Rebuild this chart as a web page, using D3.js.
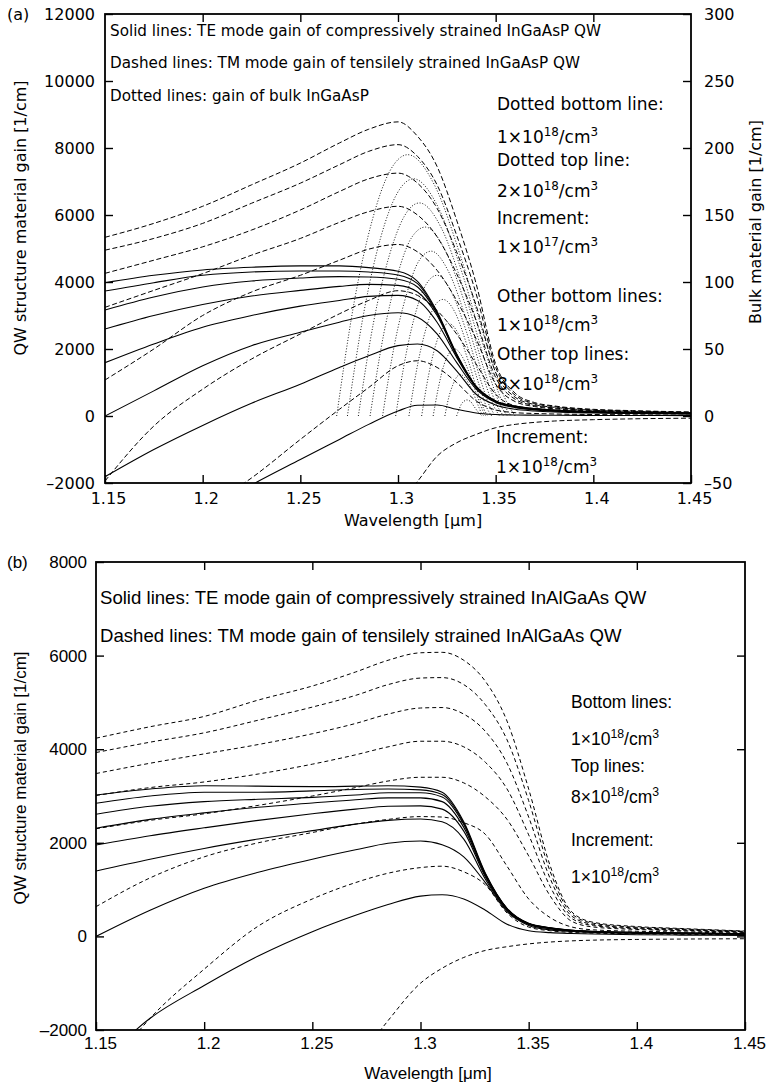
<!DOCTYPE html>
<html>
<head>
<meta charset="utf-8">
<script src="https://cdn.jsdelivr.net/npm/d3@7"></script>
<style>
  body { margin: 0; background: #fff; }
  svg { display: block; }
</style>
</head>
<body>
<div id="chart"></div>
<script>
// wavelength grid [um] shared by the QW curves
const wl = [1.15, 1.175, 1.2, 1.225, 1.25, 1.27, 1.285, 1.3, 1.31, 1.32, 1.33, 1.34, 1.35, 1.36, 1.37, 1.38, 1.4, 1.42, 1.45];

// (a) TE gain, compressively strained InGaAsP QW, 1..8 x10^18
const teA1 = [-4800, -3800, -2900, -2060, -1300, -700, -250, 150, 320, 330, 200, 90, 45, 30, 26, 22, 17, 15, 12];
const teA2 = [-1812, -1000, -280, 380, 950, 1450, 1800, 2100, 2150, 1950, 1350, 650, 330, 200, 150, 120, 90, 75, 60];
const teA3 = [0, 750, 1500, 2100, 2500, 2800, 3000, 3080, 2950, 2450, 1600, 800, 400, 250, 180, 140, 105, 85, 65];
const teA4 = [1591, 2150, 2650, 3000, 3280, 3450, 3570, 3600, 3450, 2800, 1750, 850, 420, 265, 195, 150, 110, 90, 70];
const teA5 = [2597, 3000, 3330, 3580, 3750, 3870, 3930, 3900, 3700, 3000, 1800, 860, 430, 275, 205, 160, 115, 95, 75];
const teA6 = [3164, 3550, 3850, 4030, 4120, 4160, 4150, 4080, 3850, 3050, 1820, 870, 440, 285, 210, 165, 120, 100, 78];
const teA7 = [3731, 3980, 4200, 4300, 4330, 4330, 4300, 4210, 3950, 3080, 1840, 880, 445, 290, 215, 170, 125, 103, 82];
const teA8 = [3979, 4200, 4360, 4440, 4480, 4480, 4430, 4320, 4020, 3120, 1860, 890, 450, 295, 220, 175, 130, 105, 85];

// (a) TM gain, tensilely strained InGaAsP QW
const tmA1 = [-9000, -8000, -7000, -6000, -5000, -4200, -3500, -2600, -1950, -1200, -800, -550, -350, -250, -190, -150, -110, -85, -65];
const tmA2 = [-4500, -3800, -2800, -1850, -700, 200, 850, 1500, 1650, 1450, 1000, 450, 180, 100, 75, 60, 45, 35, 25];
const tmA3 = [-1940, -300, 800, 1700, 2450, 3050, 3450, 3740, 3600, 3150, 2450, 1550, 650, 300, 220, 170, 120, 95, 70];
const tmA4 = [1075, 2000, 3000, 3700, 4200, 4650, 4980, 5120, 4900, 4350, 3450, 2300, 950, 430, 280, 215, 145, 115, 85];
const tmA5 = [3244, 3750, 4250, 4800, 5300, 5780, 6100, 6260, 6000, 5350, 4250, 2850, 1150, 500, 310, 240, 160, 130, 95];
const tmA6 = [4259, 4650, 5050, 5550, 6150, 6700, 7080, 7250, 6950, 6200, 4900, 3300, 1300, 560, 340, 260, 170, 140, 100];
const tmA7 = [4950, 5300, 5750, 6350, 6950, 7500, 7900, 8100, 7750, 6900, 5400, 3650, 1450, 620, 370, 280, 185, 150, 110];
const tmA8 = [5334, 5750, 6260, 6900, 7550, 8150, 8560, 8780, 8350, 7450, 5850, 3950, 1550, 680, 400, 300, 200, 160, 120];

// (a) bulk InGaAsP gain (right axis), [wavelength, gain], 1.0..2.0 x10^18
const bulk10 = [[1.330, 0], [1.3313, 5], [1.3325, 9], [1.3338, 11], [1.335, 12], [1.337, 11], [1.339, 7], [1.341, 3], [1.343, 0]];
const bulk11 = [[1.324, 0], [1.326, 14], [1.328, 23], [1.330, 29], [1.332, 31], [1.335, 27], [1.338, 19], [1.341, 8], [1.3428, 2], [1.344, 0]];
const bulk12 = [[1.318, 0], [1.3208, 22], [1.3235, 38], [1.3263, 47], [1.329, 50], [1.333, 44], [1.337, 30], [1.341, 13], [1.3434, 4], [1.345, 0]];
const bulk13 = [[1.3121, 0], [1.3156, 30], [1.3191, 52], [1.3225, 65], [1.326, 69], [1.331, 61], [1.336, 41], [1.341, 17], [1.344, 5], [1.346, 0]];
const bulk14 = [[1.3056, 0], [1.31, 38], [1.3143, 65], [1.3187, 82], [1.323, 87], [1.3293, 77], [1.3355, 52], [1.3418, 22], [1.3455, 6], [1.348, 0]];
const bulk15 = [[1.2988, 0], [1.3041, 46], [1.3094, 79], [1.3147, 99], [1.320, 105], [1.3275, 92], [1.335, 63], [1.3425, 26], [1.347, 7], [1.350, 0]];
const bulk16 = [[1.2921, 0], [1.2983, 54], [1.3046, 92], [1.3108, 116], [1.317, 123], [1.3258, 108], [1.3345, 74], [1.3433, 31], [1.3485, 9], [1.352, 0]];
const bulk17 = [[1.2857, 0], [1.2928, 62], [1.2999, 106], [1.3069, 133], [1.314, 141], [1.324, 124], [1.334, 85], [1.344, 35], [1.350, 10], [1.354, 0]];
const bulk18 = [[1.2797, 0], [1.2875, 70], [1.2954, 119], [1.3032, 149], [1.311, 159], [1.3223, 140], [1.3335, 95], [1.3448, 40], [1.3515, 11], [1.356, 0]];
const bulk19 = [[1.2741, 0], [1.2826, 78], [1.2911, 133], [1.2995, 166], [1.308, 177], [1.3205, 156], [1.333, 106], [1.3455, 44], [1.353, 12], [1.358, 0]];
const bulk20 = [[1.2686, 0], [1.2777, 86], [1.2868, 146], [1.2959, 183], [1.305, 195], [1.3188, 172], [1.3325, 117], [1.3463, 49], [1.3545, 14], [1.360, 0]];

// (b) TE gain, compressively strained InAlGaAs QW
const teB1 = [-2800, -1750, -1050, -420, 100, 450, 680, 860, 890, 800, 560, 260, 120, 80, 62, 50, 35, 28, 20];
const teB2 = [0, 560, 1030, 1370, 1650, 1850, 1990, 2040, 1960, 1700, 1150, 530, 235, 140, 105, 85, 65, 55, 45];
const teB3 = [1397, 1650, 1880, 2080, 2260, 2400, 2480, 2510, 2450, 2080, 1220, 550, 255, 160, 115, 95, 75, 62, 50];
const teB4 = [1953, 2150, 2320, 2480, 2620, 2720, 2780, 2790, 2720, 2250, 1270, 570, 262, 170, 120, 98, 78, 65, 52];
const teB5 = [2310, 2500, 2640, 2760, 2850, 2920, 2960, 2960, 2880, 2330, 1300, 580, 268, 175, 125, 100, 80, 67, 54];
const teB6 = [2610, 2780, 2880, 2930, 2970, 3020, 3070, 3070, 2980, 2390, 1320, 590, 272, 180, 128, 103, 82, 69, 56];
const teB7 = [2845, 3000, 3080, 3080, 3110, 3140, 3150, 3130, 3030, 2420, 1335, 595, 275, 183, 130, 105, 84, 71, 58];
const teB8 = [3022, 3150, 3220, 3210, 3200, 3210, 3220, 3190, 3080, 2450, 1350, 600, 280, 186, 133, 108, 86, 73, 60];

// (b) TM gain, tensilely strained InAlGaAs QW
const tmB1 = [-8000, -7000, -6000, -5000, -3800, -2700, -1800, -1000, -680, -450, -300, -220, -160, -120, -95, -80, -65, -57, -50];
const tmB2 = [-3200, -1750, -700, 220, 800, 1150, 1350, 1470, 1500, 1380, 1100, 500, 200, 120, 85, 70, 55, 45, 35];
const tmB3 = [635, 1250, 1700, 2000, 2220, 2400, 2500, 2560, 2550, 2430, 2180, 1500, 800, 400, 200, 140, 110, 95, 70];
const tmB4 = [2300, 2480, 2620, 2800, 3000, 3180, 3320, 3400, 3400, 3280, 2980, 2500, 1720, 860, 320, 200, 148, 122, 85];
const tmB5 = [3010, 3180, 3300, 3470, 3680, 3880, 4050, 4170, 4170, 4050, 3720, 3150, 2170, 1060, 380, 230, 165, 135, 92];
const tmB6 = [3480, 3700, 3900, 4100, 4330, 4550, 4750, 4880, 4890, 4750, 4380, 3700, 2550, 1230, 430, 255, 180, 148, 100];
const tmB7 = [3929, 4150, 4350, 4620, 4900, 5150, 5380, 5520, 5530, 5380, 4950, 4200, 2900, 1380, 480, 280, 195, 160, 108];
const tmB8 = [4235, 4480, 4700, 5050, 5350, 5650, 5900, 6060, 6070, 5900, 5450, 4600, 3150, 1500, 520, 300, 210, 170, 115];

// ticks
const xTicks = [1.15, 1.2, 1.25, 1.3, 1.35, 1.4, 1.45];
const xTickLabels = ['1.15', '1.2', '1.25', '1.3', '1.35', '1.4', '1.45'];
const yTicksA = [-2000, 0, 2000, 4000, 6000, 8000, 10000, 12000];
const yTickLabelsA = ['\u20132000', '0', '2000', '4000', '6000', '8000', '10000', '12000'];
const yTicksRightA = [-50, 0, 50, 100, 150, 200, 250, 300];
const yTickLabelsRightA = ['\u201350', '0', '50', '100', '150', '200', '250', '300'];
const yTicksB = [-2000, 0, 2000, 4000, 6000, 8000];
const yTickLabelsB = ['\u20132000', '0', '2000', '4000', '6000', '8000'];

// texts
const notesA = ['Solid lines: TE mode gain of compressively strained InGaAsP QW',
                'Dashed lines: TM mode gain of tensilely strained InGaAsP QW',
                'Dotted lines: gain of bulk InGaAsP'];
const notesB = ['Solid lines: TE mode gain of compressively strained InAlGaAs QW',
                'Dashed lines: TM mode gain of tensilely strained InAlGaAs QW'];

const teA = [teA1, teA2, teA3, teA4, teA5, teA6, teA7, teA8];
const tmA = [tmA1, tmA2, tmA3, tmA4, tmA5, tmA6, tmA7, tmA8];
const bulkA = [bulk10, bulk11, bulk12, bulk13, bulk14, bulk15, bulk16, bulk17, bulk18, bulk19, bulk20];
const teB = [teB1, teB2, teB3, teB4, teB5, teB6, teB7, teB8];
const tmB = [tmB1, tmB2, tmB3, tmB4, tmB5, tmB6, tmB7, tmB8];

const svg = d3.select('#chart').append('svg')
    .attr('width', 769)
    .attr('height', 1085);

svg.append('rect').attr('width', 769).attr('height', 1085).attr('fill', '#fff');

function makePanel(p) {
    const x = d3.scaleLinear().domain([1.15, 1.45]).range([p.left, p.right]);
    const y = d3.scaleLinear().domain(p.yDomain).range([p.bottom, p.top]);
    const g = svg.append('g').attr('font-family', p.font);

    const clipId = 'clip-' + p.name;
    svg.append('clipPath').attr('id', clipId)
        .append('rect')
        .attr('x', p.left).attr('y', p.top)
        .attr('width', p.right - p.left).attr('height', p.bottom - p.top);
    const plot = g.append('g').attr('clip-path', `url(#${clipId})`);

    const lineWl = d3.line()
        .x((d, i) => x(wl[i]))
        .y(d => y(d))
        .curve(d3.curveMonotoneX);

    p.te.forEach(s => {
        plot.append('path').datum(s)
            .attr('fill', 'none').attr('stroke', '#000').attr('stroke-width', 1.1)
            .attr('d', lineWl);
    });
    p.tm.forEach(s => {
        plot.append('path').datum(s)
            .attr('fill', 'none').attr('stroke', '#000').attr('stroke-width', 1)
            .attr('stroke-dasharray', p.dash)
            .attr('d', lineWl);
    });

    const styleAxis = (sel, size) => {
        sel.select('.domain').remove();
        sel.selectAll('.tick line').attr('stroke', '#000').attr('stroke-width', 1.4);
        sel.selectAll('text').attr('font-family', p.font).attr('font-size', size).attr('fill', '#000');
        sel.attr('font-family', null).attr('font-size', null);
    };

    g.append('g').attr('transform', `translate(0,${p.bottom})`)
        .call(d3.axisBottom(x).tickValues(xTicks).tickSize(-8).tickPadding(p.xPad)
            .tickFormat((d, i) => xTickLabels[i]))
        .call(sel => styleAxis(sel, p.tickSize))
        .call(sel => sel.selectAll('text').attr('dx', p.xLabelShift));
    g.append('g').attr('transform', `translate(0,${p.top})`)
        .call(d3.axisTop(x).tickValues(xTicks.slice(1, -1)).tickSize(-8).tickFormat(''))
        .call(sel => styleAxis(sel, p.tickSize));
    g.append('g').attr('transform', `translate(${p.left},0)`)
        .call(d3.axisLeft(y).tickValues(p.yTicks).tickSize(-8).tickPadding(p.yPad)
            .tickFormat((d, i) => p.yLabels[i]))
        .call(sel => styleAxis(sel, p.tickSize));

    g.append('rect')
        .attr('x', p.left).attr('y', p.top)
        .attr('width', p.right - p.left).attr('height', p.bottom - p.top)
        .attr('fill', 'none').attr('stroke', '#000').attr('stroke-width', 1.8);

    return {x, y, g, plot};
}

// superscript concentration label
function conc(g, xPos, yPos, mant, exp, size) {
    const t = g.append('text').attr('x', xPos).attr('y', yPos).attr('font-size', size);
    t.append('tspan').text(mant + '\u00d710');
    t.append('tspan').attr('dy', -size * 0.42).attr('font-size', size * 0.7).text(exp);
    t.append('tspan').attr('dy', size * 0.42).text('/cm');
    t.append('tspan').attr('dy', -size * 0.42).attr('font-size', size * 0.7).text('3');
}

// ---------- panel (a) ----------
const fontA = 'DejaVu Sans';
const A = makePanel({
    name: 'a', left: 105, right: 691, top: 14, bottom: 483,
    yDomain: [-2000, 12000], yTicks: yTicksA, yLabels: yTickLabelsA,
    te: teA, tm: tmA, dash: '5,2.6', font: fontA, tickSize: 16,
    xPad: 10, yPad: 10, xLabelShift: 3
});

const yBulk = d3.scaleLinear().domain([-50, 300]).range([483, 14]);
const lineBulk = d3.line()
    .x(d => A.x(d[0]))
    .y(d => yBulk(d[1]))
    .curve(d3.curveMonotoneX);
bulkA.forEach(s => {
    A.plot.append('path').datum(s)
        .attr('fill', 'none').attr('stroke', '#000').attr('stroke-width', 0.9)
        .attr('stroke-dasharray', '1,1.8')
        .attr('d', lineBulk);
});

A.g.append('g').attr('transform', 'translate(691,0)')
    .call(d3.axisRight(yBulk).tickValues(yTicksRightA).tickSize(-8).tickPadding(13)
        .tickFormat((d, i) => yTickLabelsRightA[i]))
    .call(sel => {
        sel.select('.domain').remove();
        sel.selectAll('.tick line').attr('stroke', '#000').attr('stroke-width', 1.4);
        sel.selectAll('text').attr('font-family', fontA).attr('font-size', 16).attr('fill', '#000');
    });

A.g.append('text').attr('x', 7).attr('y', 20).attr('font-size', 16).text('(a)');
A.g.append('text')
    .attr('transform', 'translate(26,218) rotate(-90)')
    .attr('text-anchor', 'middle').attr('font-size', 16)
    .text('QW structure material gain [1/cm]');
A.g.append('text')
    .attr('transform', 'translate(761,222) rotate(-90)')
    .attr('text-anchor', 'middle').attr('font-size', 16)
    .text('Bulk material gain [1/cm]');
A.g.append('text').attr('x', 413).attr('y', 526)
    .attr('text-anchor', 'middle').attr('font-size', 16)
    .text('Wavelength [\u03bcm]');

const noteY_A = [36, 68, 101];
notesA.forEach((s, i) => {
    A.g.append('text').attr('x', 110).attr('y', noteY_A[i]).attr('font-size', 15.2).text(s);
});

const fsA = 17;
A.g.append('text').attr('x', 497).attr('y', 110).attr('font-size', fsA).text('Dotted bottom line:');
conc(A.g, 497, 143, '1', '18', fsA);
A.g.append('text').attr('x', 497).attr('y', 166).attr('font-size', fsA).text('Dotted top line:');
conc(A.g, 497, 197, '2', '18', fsA);
A.g.append('text').attr('x', 497).attr('y', 224).attr('font-size', fsA).text('Increment:');
conc(A.g, 497, 253, '1', '17', fsA);
A.g.append('text').attr('x', 497).attr('y', 302).attr('font-size', fsA).text('Other bottom lines:');
conc(A.g, 497, 331, '1', '18', fsA);
A.g.append('text').attr('x', 497).attr('y', 360).attr('font-size', fsA).text('Other top lines:');
conc(A.g, 497, 390, '8', '18', fsA);
A.g.append('text').attr('x', 496).attr('y', 443).attr('font-size', fsA).text('Increment:');
conc(A.g, 496, 473, '1', '18', fsA);

// ---------- panel (b) ----------
const fontB = 'Liberation Sans';
const B = makePanel({
    name: 'b', left: 96, right: 745, top: 562, bottom: 1030,
    yDomain: [-2000, 8000], yTicks: yTicksB, yLabels: yTickLabelsB,
    te: teB, tm: tmB, dash: '4,3', font: fontB, tickSize: 17,
    xPad: 7, yPad: 9, xLabelShift: 4
});

B.g.append('g').attr('transform', 'translate(745,0)')
    .call(d3.axisRight(B.y).tickValues(yTicksB.slice(1, -1)).tickSize(-8).tickFormat(''))
    .call(sel => {
        sel.select('.domain').remove();
        sel.selectAll('.tick line').attr('stroke', '#000').attr('stroke-width', 1.4);
    });

B.g.append('text').attr('x', 7).attr('y', 568).attr('font-size', 17).text('(b)');
B.g.append('text')
    .attr('transform', 'translate(26,778) rotate(-90)')
    .attr('text-anchor', 'middle').attr('font-size', 17)
    .text('QW structure material gain [1/cm]');
B.g.append('text').attr('x', 428).attr('y', 1079)
    .attr('text-anchor', 'middle').attr('font-size', 17)
    .text('Wavelength [\u03bcm]');

const noteY_B = [604, 642];
notesB.forEach((s, i) => {
    B.g.append('text').attr('x', 100).attr('y', noteY_B[i]).attr('font-size', 18.6).text(s);
});

const fsB = 17.5;
B.g.append('text').attr('x', 571).attr('y', 708).attr('font-size', fsB).text('Bottom lines:');
conc(B.g, 571, 745, '1', '18', fsB);
B.g.append('text').attr('x', 571).attr('y', 772).attr('font-size', fsB).text('Top lines:');
conc(B.g, 571, 803, '8', '18', fsB);
B.g.append('text').attr('x', 571).attr('y', 846).attr('font-size', fsB).text('Increment:');
conc(B.g, 571, 883, '1', '18', fsB);
</script>
</body>
</html>
